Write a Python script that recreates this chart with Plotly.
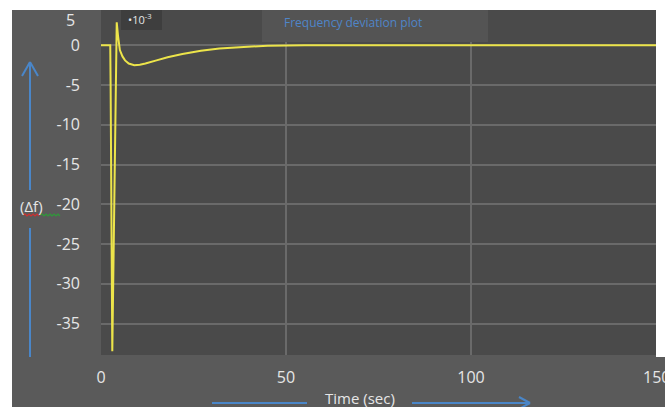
import plotly.graph_objects as go

# Frequency deviation response (x 10^-3) after a step load disturbance
time_s = [0, 2.5, 2.6, 3.05, 3.3, 3.7, 4.0, 4.25, 4.6, 5.1, 5.8, 6.5, 7.5, 9.0,
          10.5, 12, 15, 18, 22, 27, 32, 38, 45, 55, 80, 150]
delta_f = [0, 0, -5, -38.5, -30, -15, -3, 2.9, 1.2, -0.6, -1.4, -1.9, -2.3, -2.5,
           -2.45, -2.3, -1.9, -1.5, -1.1, -0.7, -0.4, -0.2, -0.05, 0, 0, 0]

x_ticks = [0, 50, 100]
x_last_tick = 150
y_ticks = [0, -5, -10, -15, -20, -25, -30, -35]

W, H = 665, 407
L, R, T, B = 101, 656, 10, 355  # plot area in pixels


def px(x):
    return (x - L) / (R - L)


def py(y):
    return (B - y) / (B - T)


BLUE = "#4a86c8"
TXT = "#e6e6e6"
FONT = "Open Sans"

fig = go.Figure()
fig.add_trace(go.Scatter(
    x=time_s, y=delta_f, mode="lines",
    line=dict(color="#ece44a", width=2),
    showlegend=False, hoverinfo="skip",
))

shapes = []


def rect(x0, y0, x1, y1, color):
    shapes.append(dict(type="rect", xref="paper", yref="paper", layer="above",
                       x0=px(x0), x1=px(x1), y0=py(y1), y1=py(y0),
                       fillcolor=color, line=dict(width=0)))


# outer frame: white strips around the grey panel
rect(0, 0, W, T, "white")
rect(0, 0, 12, H, "white")
rect(R, 0, W, 357, "white")
# title box and exponent box
rect(262, T, 488, 42, "#545454")
rect(121, T, 162, 30, "#3e3e3e")


def seg(x0, y0, x1, y1, color=BLUE, width=2):
    shapes.append(dict(type="line", xref="paper", yref="paper", layer="above",
                       x0=px(x0), y0=py(y0), x1=px(x1), y1=py(y1),
                       line=dict(color=color, width=width)))


# vertical arrow for the y-axis label
seg(30, 357, 30, 228)
seg(30, 190, 30, 62)
seg(30, 62, 22, 76)
seg(30, 62, 38, 76)
# horizontal arrow for the x-axis label
seg(212, 403, 307, 403)
seg(412, 403, 530, 403)
seg(530, 403, 519, 397)
seg(530, 403, 519, 409)


def squiggle(x0, x1, color):
    path = "M {} {}".format(px(x0), py(215))
    for i, xx in enumerate(range(x0 + 2, x1 + 1, 2)):
        path += " L {} {}".format(px(xx), py(214 if i % 2 == 0 else 216))
    shapes.append(dict(type="path", xref="paper", yref="paper", layer="above",
                       path=path, line=dict(color=color, width=1.2)))


# spell-check squiggles under the (Δf) label
squiggle(23, 40, "#d03030")
squiggle(40, 60, "#2f9a3a")


def label(text, x, y, size, color=TXT):
    return dict(text=text, xref="paper", yref="paper", x=px(x), y=py(y),
                xanchor="center", yanchor="middle", showarrow=False,
                font=dict(size=size, color=color, family=FONT))


annotations = [
    label("Frequency deviation plot", 353, 22, 12, "#4f85c8"),
    label("•10<sup>-3</sup>", 140, 19, 11),
    label("(Δf)", 31, 206, 15),
    label("Time (sec)", 360, 398, 15),
    label("5", 70, 20, 16),
    # last x tick label sits at the right edge and runs off the page
    dict(text=str(x_last_tick), xref="x", yref="paper", x=x_last_tick,
         y=py(377), xanchor="center", yanchor="middle", showarrow=False,
         font=dict(size=16, color=TXT, family=FONT)),
]

fig.update_layout(
    width=W, height=H,
    margin=dict(l=L, r=W - R, t=T, b=H - B, pad=0),
    paper_bgcolor="#5a5a5a",
    plot_bgcolor="#4a4a4a",
    shapes=shapes,
    annotations=annotations,
    font=dict(family=FONT, color=TXT, size=16),
)
fig.update_xaxes(
    range=[0, 150], tickvals=x_ticks, ticktext=[str(v) for v in x_ticks],
    showgrid=True, gridcolor="#6a6a6a", gridwidth=1.5, zeroline=False,
    showline=False, ticks="", ticklabelstandoff=11,
    tickfont=dict(size=16, color=TXT, family=FONT),
)
fig.update_yaxes(
    range=[-38.96, 4.44], tickvals=y_ticks, ticktext=[str(v) for v in y_ticks],
    showgrid=True, gridcolor="#6a6a6a", gridwidth=1.5, zeroline=False,
    showline=False, ticks="", ticklabelstandoff=20,
    tickfont=dict(size=16, color=TXT, family=FONT),
)

fig.write_html("out.html")
